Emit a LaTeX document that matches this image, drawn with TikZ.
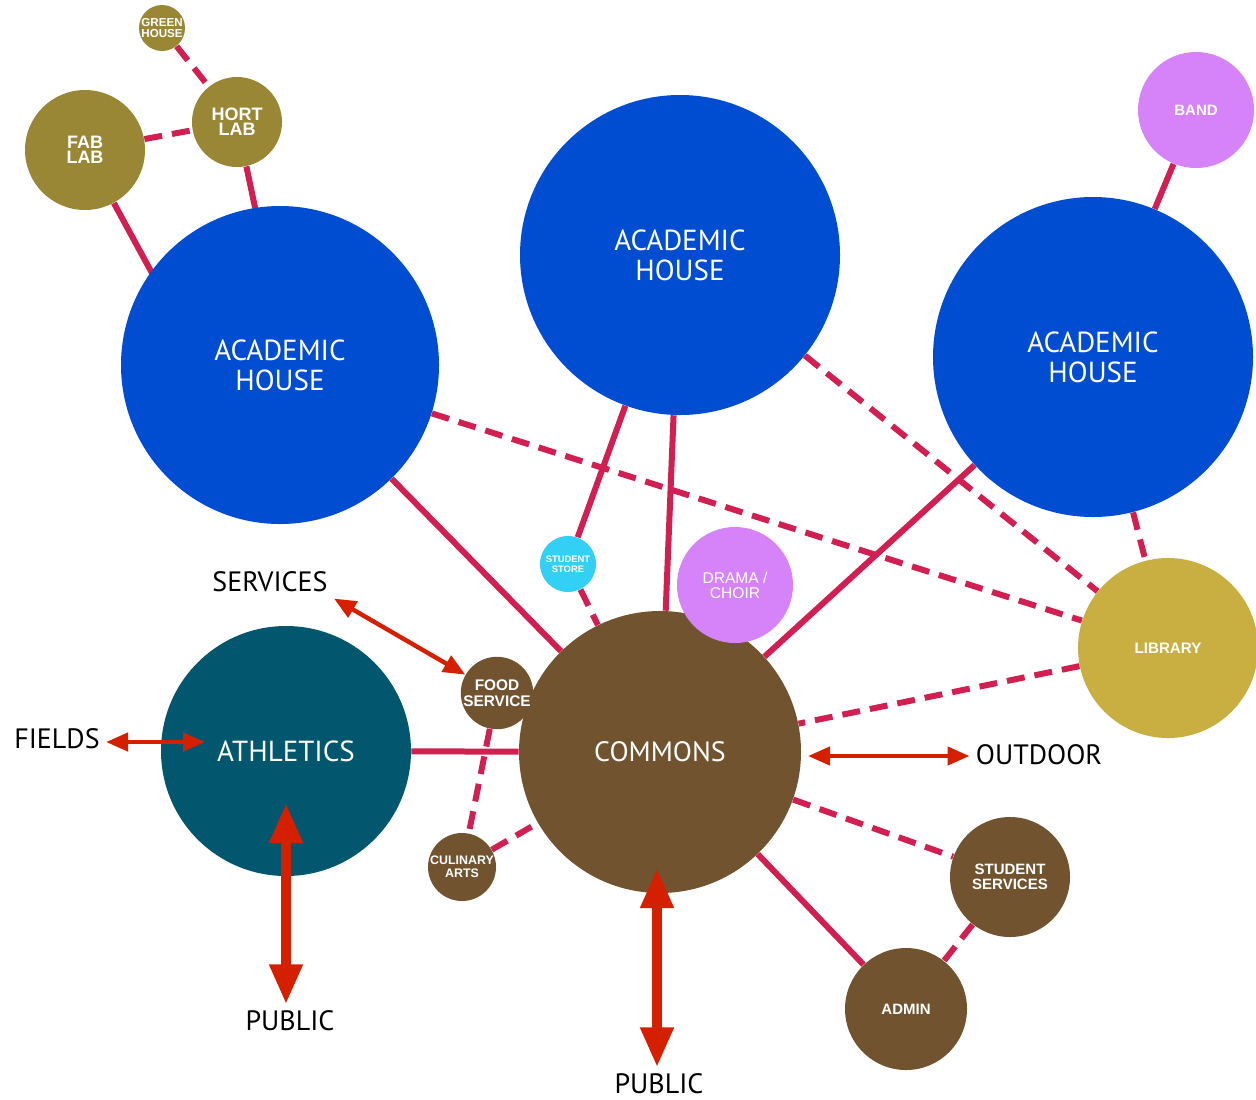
\documentclass[tikz,border=0pt]{standalone}
\usepackage{fontspec}
\setmainfont{Liberation Sans}
\newfontfamily\dinfont{PT Sans}
\usetikzlibrary{arrows.meta,backgrounds}
\definecolor{housblue}{HTML}{004DD1}
\definecolor{labolive}{HTML}{9A8736}
\definecolor{athteal}{HTML}{02576E}
\definecolor{combrown}{HTML}{72532F}
\definecolor{libgold}{HTML}{C9AE42}
\definecolor{artviolet}{HTML}{D683FA}
\definecolor{storecyan}{HTML}{33D0F5}
\definecolor{linkred}{HTML}{D01F50}
\definecolor{arrowred}{HTML}{D52000}
\begin{document}
\begin{tikzpicture}[x=0.5pt, y=-0.5pt, line join=round,
  hub/.style={circle, inner sep=0pt, text=white, align=center},
  bigtxt/.style={font=\dinfont\fontsize{14.5}{15}\selectfont},
  outtxt/.style={font=\dinfont\fontsize{14}{14}\selectfont, inner sep=3pt},
  link/.style={draw=linkred, line width=3pt},
  dashlink/.style={link, dash pattern=on 9pt off 5pt},
  bigarrow/.style={draw=arrowred, line width=5pt,
    {Triangle[width=15.5pt,length=20pt]}-{Triangle[width=15.5pt,length=20pt]}},
  thinarrow/.style={draw=arrowred, line width=2.2pt,
    {Triangle[width=9pt,length=11pt]}-{Triangle[width=9pt,length=11pt]}}]
\useasboundingbox (0,0) rectangle (1256,1099);

% academic houses
\node[hub, fill=housblue, minimum size=159pt, bigtxt] (acl) at (280,365) {ACADEMIC\\HOUSE};
\node[hub, fill=housblue, minimum size=160pt, bigtxt] (acm) at (680,255) {ACADEMIC\\HOUSE};
\node[hub, fill=housblue, minimum size=160pt, bigtxt] (acr) at (1093,357) {ACADEMIC\\HOUSE};

% labs
\node[hub, fill=labolive, minimum size=23pt, font=\bfseries\fontsize{5.8}{5.8}\selectfont] (green) at (162,28) {GREEN\\HOUSE};
\node[hub, fill=labolive, minimum size=45pt, font=\bfseries\fontsize{9}{7.5}\selectfont] (hort) at (237,122) {HORT\\LAB};
\node[hub, fill=labolive, minimum size=60pt, font=\bfseries\fontsize{9}{7.5}\selectfont] (fab) at (85,150) {FAB\\LAB};

\node[hub, fill=artviolet, minimum size=58pt, font=\bfseries\fontsize{7.5}{8}\selectfont] (band) at (1196,110) {BAND};
\node[hub, fill=libgold, minimum size=90pt, font=\bfseries\fontsize{7.6}{8}\selectfont] (lib) at (1168,648) {LIBRARY};

% commons and around
\node[hub, fill=combrown, minimum size=141pt, font=\dinfont\fontsize{14}{15}\selectfont] (com) at (660,752) {COMMONS};
\node[hub, fill=artviolet, minimum size=58pt, font=\fontsize{7.8}{7.5}\selectfont] (drama) at (735,585) {DRAMA /\\CHOIR};
\node[hub, fill=storecyan, minimum size=28pt, font=\bfseries\fontsize{4.7}{4.8}\selectfont] (store) at (568,564) {STUDENT\\STORE};
\node[hub, fill=athteal, minimum size=125pt, font=\dinfont\fontsize{14.5}{15}\selectfont] (ath) at (286,751) {ATHLETICS};
\node[hub, fill=combrown, minimum size=35pt, font=\bfseries\fontsize{7.7}{8}\selectfont] (food) at (497,693) {FOOD\\SERVICE};
\node[hub, fill=combrown, minimum size=34pt, font=\bfseries\fontsize{6.2}{6.5}\selectfont] (cul) at (462,867) {CULINARY\\ARTS};
\node[hub, fill=combrown, minimum size=60pt, font=\bfseries\fontsize{7.5}{7.5}\selectfont] (stsv) at (1010,877) {STUDENT\\SERVICES};
\node[hub, fill=combrown, minimum size=61pt, font=\bfseries\fontsize{7.5}{8}\selectfont] (admin) at (906,1009) {ADMIN};

% outside labels
\node[outtxt] (srv) at (270,582) {SERVICES};
\node[outtxt] (fields) at (57,739) {FIELDS};
\node[outtxt] (pub1) at (290,1021) {PUBLIC};
\node[outtxt] (pub2) at (659,1084) {PUBLIC};
\node[outtxt] (outd) at (1039,755) {OUTDOOR};

\begin{pgfonlayer}{background}
\draw[dashlink] (green) -- (hort);
\draw[dashlink] (fab) -- (hort);
\draw[link, shorten >=-6pt] (fab) -- (acl.144);
\draw[link, shorten >=-6pt] (hort) -- (acl.99);
\draw[link] (band) -- (acr);
\draw[link] (acl) -- (com);
\draw[link] (acm) -- (com);
\draw[link] (acm) -- (store);
\draw[dashlink] (store) -- (com);
\draw[link] (acr) -- (com);
\draw[dashlink] (acl) -- (lib);
\draw[dashlink] (acm) -- (lib);
\draw[dashlink] (acr) -- (lib);
\draw[dashlink] (lib) -- (com);
\draw[link] (ath) -- (com);
\draw[dashlink] (food) -- (cul);
\draw[dashlink] (cul) -- (com);
\draw[dashlink] (com) -- (stsv);
\draw[dashlink] (stsv) -- (admin);
\draw[link] (com) -- (admin);
\end{pgfonlayer}

% red arrows
\coordinate (fldtip) at (205,742);
\coordinate (athtip) at (286,803);
\coordinate (comtip) at (657,868);
\coordinate (outtip) at (808,756);
\draw[thinarrow] (srv.south east) -- (food);
\draw[thinarrow] (fldtip -| fields.east) -- (fldtip);
\draw[bigarrow] (athtip) -- (athtip |- pub1.north);
\draw[bigarrow] (comtip) -- (comtip |- pub2.north);
\draw[thinarrow] (outtip) -- (outtip -| outd.west);
\end{tikzpicture}
\end{document}
